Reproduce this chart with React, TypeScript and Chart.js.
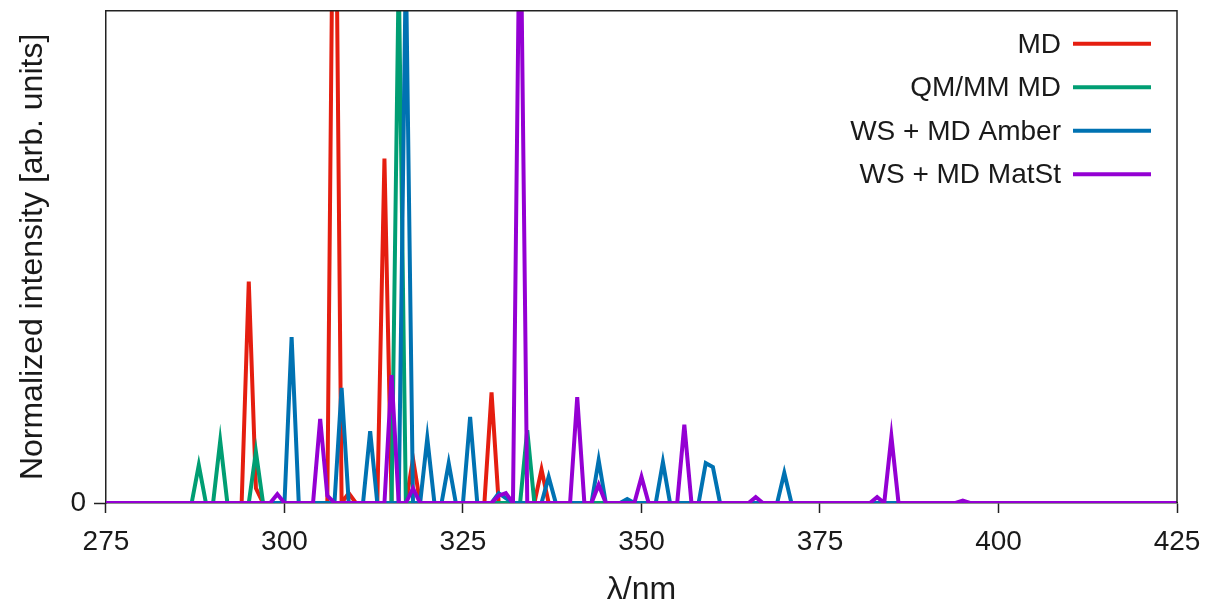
import React, { useEffect, useRef } from 'react';
import { Chart, registerables } from 'chart.js';

Chart.register(...registerables);

// x-axis ticks (nm)
const xTickValues = [275, 300, 325, 350, 375, 400, 425];

// MD
const mdWavelengths = [275, 294, 295, 296, 297, 306, 307, 308, 309, 310, 313, 314, 315, 317, 318, 319, 328, 329, 330, 335, 336, 337, 425];
const mdIntensity = [0, 0, 0.45, 0.03, 0, 0, 1.6, 0, 0.02, 0, 0, 0.7, 0, 0, 0.09, 0, 0, 0.225, 0, 0, 0.068, 0, 0];

// QM/MM MD
const qmmmWavelengths = [275, 287, 288, 289, 290, 291, 292, 295, 296, 297, 315, 316, 317, 333, 334, 335, 425];
const qmmmIntensity = [0, 0, 0.077, 0, 0, 0.126, 0, 0, 0.104, 0, 0, 1.08, 0, 0, 0.148, 0, 0];

// WS + MD Amber
const amberWavelengths = [275, 300, 301, 302, 307, 308, 309, 311, 312, 313, 316, 317, 318, 319, 320, 321, 322, 323, 324, 325, 326, 327, 329, 330, 331, 332, 336, 337, 338, 343, 344, 345, 347, 348, 349, 352, 353, 354, 358, 359, 360, 361, 369, 370, 371, 425];
const amberIntensity = [0, 0, 0.337, 0, 0, 0.234, 0, 0, 0.146, 0, 0, 1.1, 0, 0, 0.132, 0, 0, 0.081, 0, 0, 0.175, 0, 0, 0.02, 0.01, 0, 0, 0.053, 0, 0, 0.087, 0, 0, 0.008, 0, 0, 0.083, 0, 0, 0.081, 0.073, 0, 0, 0.061, 0, 0];

// WS + MD MatSt
const matstWavelengths = [275, 298, 299, 300, 304, 305, 306, 307, 314, 315, 316, 317, 318, 319, 329, 330, 331, 332, 333, 334, 340, 341, 342, 343, 344, 345, 349, 350, 351, 355, 356, 357, 365, 366, 367, 382, 383, 384, 385, 386, 394, 395, 396, 425];
const matstIntensity = [0, 0, 0.018, 0, 0, 0.171, 0.015, 0, 0, 0.26, 0, 0, 0.03, 0, 0, 0.015, 0.02, 0, 1.3, 0, 0, 0.215, 0, 0, 0.037, 0, 0, 0.053, 0, 0, 0.159, 0, 0, 0.012, 0, 0, 0.012, 0, 0.135, 0, 0, 0.005, 0, 0];

const seriesLabels = ['MD', 'QM/MM MD', 'WS + MD Amber', 'WS + MD MatSt'];
const seriesColors = ['#e51e10', '#009e73', '#0072b2', '#9400d3'];

const FONT = '"Liberation Sans", Arial, Helvetica, sans-serif';
const TEXT = '#1a1a1a';

const toPoints = (xs: number[], ys: number[]) => xs.map((x, i) => ({ x, y: ys[i] }));

const framePlugin = {
  id: 'frame',
  afterDraw(chart: any) {
    const { ctx, chartArea } = chart;
    const { left, right, top, bottom } = chartArea;
    ctx.save();
    ctx.strokeStyle = '#222';
    ctx.lineWidth = 1.5;
    ctx.beginPath();
    ctx.moveTo(left, top);
    ctx.lineTo(right, top);
    ctx.lineTo(right, bottom);
    ctx.stroke();
    ctx.restore();
  },
};

const legendPlugin = {
  id: 'insideLegend',
  afterDraw(chart: any) {
    const { ctx, chartArea } = chart;
    const { right, top } = chartArea;
    ctx.save();
    ctx.font = `28px ${FONT}`;
    ctx.textAlign = 'right';
    ctx.textBaseline = 'middle';
    chart.data.datasets.forEach((ds: any, i: number) => {
      const y = top + 33 + i * 43.5;
      ctx.fillStyle = TEXT;
      ctx.fillText(ds.label, right - 116, y + 1);
      ctx.strokeStyle = ds.borderColor;
      ctx.lineWidth = 4;
      ctx.beginPath();
      ctx.moveTo(right - 104, y);
      ctx.lineTo(right - 26, y);
      ctx.stroke();
    });
    ctx.restore();
  },
};

export default function App() {
  const canvasRef = useRef<HTMLCanvasElement | null>(null);

  useEffect(() => {
    if (!canvasRef.current) return;
    const xs = [mdWavelengths, qmmmWavelengths, amberWavelengths, matstWavelengths];
    const ys = [mdIntensity, qmmmIntensity, amberIntensity, matstIntensity];
    const chart = new Chart(canvasRef.current, {
      type: 'line',
      data: {
        datasets: seriesLabels.map((label, i) => ({
          label,
          data: toPoints(xs[i], ys[i]),
          borderColor: seriesColors[i],
          backgroundColor: seriesColors[i],
          borderWidth: 4,
          pointRadius: 0,
          tension: 0,
          fill: false,
          order: 4 - i,
        })),
      },
      options: {
        animation: false,
        responsive: false,
        events: [],
        layout: { padding: { top: 0, right: 35, left: 0, bottom: 0 } },
        plugins: {
          legend: { display: false },
          tooltip: { enabled: false },
        },
        scales: {
          x: {
            type: 'linear',
            min: 275,
            max: 425,
            afterBuildTicks: (scale: any) => {
              scale.ticks = xTickValues.map((v) => ({ value: v }));
            },
            afterFit: (scale: any) => {
              scale.paddingRight = 0;
            },
            ticks: {
              color: TEXT,
              font: { family: FONT, size: 28, lineHeight: 1 },
              padding: 15,
              maxRotation: 0,
              autoSkip: false,
            },
            grid: { drawOnChartArea: false, drawTicks: true, tickLength: 10, color: '#222', tickWidth: 1.5 },
            border: { display: true, color: '#222', width: 1.5 },
            title: {
              display: true,
              text: 'λ/nm',
              color: TEXT,
              font: { family: FONT, size: 32, lineHeight: 1 },
              padding: { top: 3, bottom: 0 },
            },
          },
          y: {
            type: 'linear',
            min: 0,
            max: 1,
            afterBuildTicks: (scale: any) => {
              scale.ticks = [{ value: 0 }];
            },
            ticks: {
              color: TEXT,
              font: { family: FONT, size: 28, lineHeight: 0.2 },
              padding: 8,
            },
            grid: { drawOnChartArea: false, drawTicks: true, tickLength: 12, color: '#222', tickWidth: 1.5 },
            border: { display: true, color: '#222', width: 1.5 },
            title: {
              display: true,
              text: 'Normalized intensity [arb. units]',
              color: TEXT,
              font: { family: FONT, size: 32 },
              padding: { top: 14, bottom: 10 },
            },
          },
        },
      },
      plugins: [framePlugin, legendPlugin],
    });
    return () => chart.destroy();
  }, []);

  return (
    <div style={{ position: 'absolute', left: 0, top: 0, width: 1212, height: 606, background: '#fff' }}>
      <canvas ref={canvasRef} width={1212} height={606} style={{ display: 'block' }} />
    </div>
  );
}
